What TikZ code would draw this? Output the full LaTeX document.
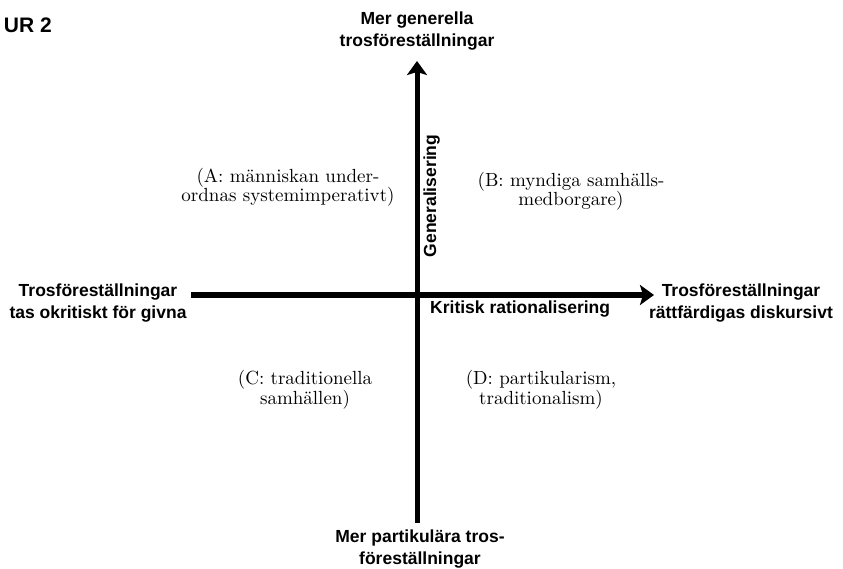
\documentclass[tikz,border=0pt]{standalone}
\usepackage{fontspec}
\newfontfamily\quadfont{lmroman10-regular}[Extension=.otf]
\newfontfamily\labelfont{Liberation Sans}
\usetikzlibrary{arrows.meta}
\tikzset{
  axis/.style={line width=5pt, -{Stealth[length=14pt,width=20pt,inset=3pt]}},
  sanslabel/.style={font=\labelfont\bfseries\fontsize{17.5}{22}\selectfont, align=center, inner sep=0pt},
  quadlabel/.style={font=\quadfont\fontsize{19}{19.5}\selectfont, align=center, inner sep=0pt},
}
\begin{document}
\begin{tikzpicture}[x=1pt,y=-1pt]
\useasboundingbox (0,0) rectangle (843,569);
\coordinate (top) at (417,61);
\coordinate (bottom) at (417,523);
\coordinate (left) at (191,295);
\coordinate (right) at (654,295);
\draw[axis] (left) -- (right);
\draw[axis] (bottom) -- (top);
\node[sanslabel, font=\labelfont\bfseries\fontsize{21}{24}\selectfont, anchor=base east] (fig) at (52,33) {UR 2};
\node[sanslabel, anchor=base] (toplab) at (417,47) {Mer generella\\trosföreställningar};
\node[sanslabel, anchor=base] (leftlab) at (98,319) {Trosföreställningar\\tas okritiskt för givna};
\node[sanslabel, anchor=base] (rightlab) at (741,318) {Trosföreställningar\\rättfärdigas diskursivt};
\node[sanslabel, anchor=base] (botlab) at (420,564) {Mer partikulära tros-\\föreställningar};
\node[sanslabel, anchor=base west] (krit) at (430,313) {Kritisk rationalisering};
\node[sanslabel, rotate=90, anchor=base] (gen) at (436,196) {Generalisering};
\node[quadlabel, anchor=base] (qa) at (288,202) {(A: människan under-\\ordnas systemimperativt)};
\node[quadlabel, anchor=base] (qb) at (571,206) {(B: myndiga samhälls-\\medborgare)};
\node[quadlabel, anchor=base] (qc) at (305,404) {(C: traditionella\\samhällen)};
\node[quadlabel, anchor=base] (qd) at (541,404) {(D: partikularism,\\traditionalism)};
\end{tikzpicture}
\end{document}
